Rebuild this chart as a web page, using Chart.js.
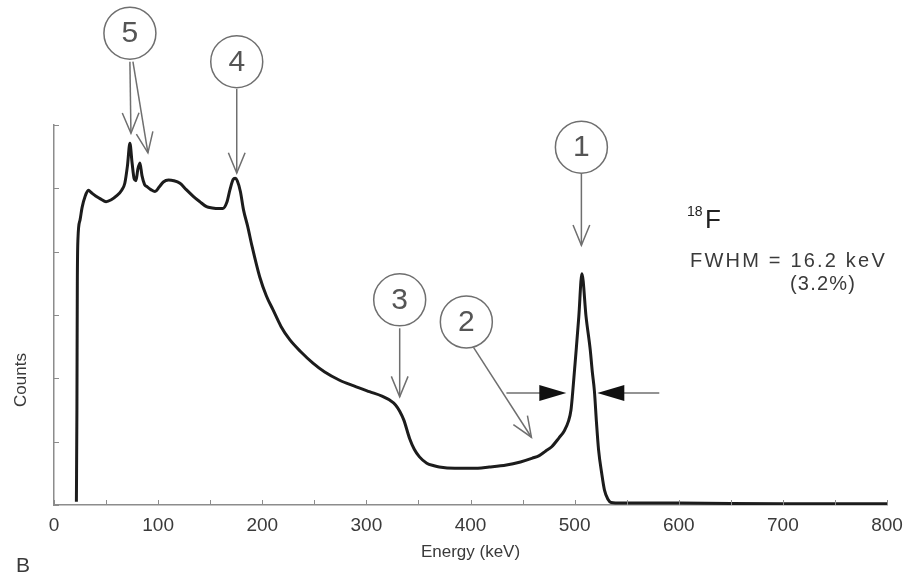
<!DOCTYPE html>
<html>
<head>
<meta charset="utf-8">
<script src="https://cdn.jsdelivr.net/npm/chart.js@4/dist/chart.umd.min.js"></script>
<style>
  html, body { margin: 0; background: #fff; }
  #wrap { width: 904px; height: 579px; position: relative; }
</style>
</head>
<body>
<div id="wrap"><canvas id="spectrum"></canvas></div>
<script>
// ---- data ----
const energy = [
  21.5, 22, 22.4, 23, 25, 27, 30, 33, 36, 40, 45, 50, 55, 60, 65, 68, 70.5, 72.9,
  75, 77, 78.7, 80.5, 82.5, 84.5, 87, 89, 93, 97, 101, 105, 110, 115, 121, 127,
  134, 140, 146.5, 152, 158, 162, 166, 169, 172, 174, 176, 179, 182, 186, 190,
  197.6, 204, 210.4, 218, 226.4, 237, 248.7, 260, 274.3, 288, 303, 315, 322, 328,
  332, 336, 341.5, 346, 351, 358, 365, 370, 385, 402, 418, 434.5, 448, 459.5, 466,
  472, 478, 485, 490, 494, 496.5, 498, 500, 501.5, 504, 507, 511, 515, 517, 519,
  521, 523, 526, 528.6, 532, 535, 545, 600, 700, 800
];
const counts = [
  0.05, 1.5, 3.5, 4.2, 4.5, 4.7, 4.88, 4.97, 4.93, 4.88, 4.83, 4.79, 4.82, 4.88, 4.97, 5.08, 5.35, 5.71,
  5.4, 5.15, 5.12, 5.3, 5.4, 5.2, 5.06, 5.03, 4.98, 4.95, 5.02, 5.1, 5.13, 5.12, 5.08, 4.98,
  4.87, 4.79, 4.71, 4.69, 4.68, 4.68, 4.78, 4.98, 5.14, 5.16, 5.12, 4.95, 4.66, 4.4, 4.1,
  3.6, 3.3, 3.08, 2.82, 2.61, 2.42, 2.24, 2.1, 1.97, 1.88, 1.79, 1.72, 1.66, 1.58,
  1.48, 1.34, 1.05, 0.88, 0.76, 0.66, 0.62, 0.6, 0.58, 0.58, 0.6, 0.63, 0.68, 0.74, 0.78,
  0.85, 0.92, 1.06, 1.17, 1.32, 1.5, 1.75, 2.15, 2.45, 2.97, 3.65, 2.97, 2.45, 2.1, 1.8,
  1.3, 0.87, 0.5, 0.24, 0.09, 0.04, 0.03, 0.03, 0.02, 0.02
];
const xTickLabels = ["0", "100", "200", "300", "400", "500", "600", "700", "800"];
const calloutLabels = ["5", "4", "3", "2", "1"];

// callouts and arrows, placed in data units (keV, counts)
const callouts = [
  { e: 72.9, c: 7.45 }, { e: 175.5, c: 7.0 }, { e: 332, c: 3.24 },
  { e: 396, c: 2.89 }, { e: 506.5, c: 5.65 }
];
const arrows = [
  [72.9, 7.0, 73.9, 5.87], [75.8, 7.0, 90.2, 5.56], [175.5, 6.57, 175.5, 5.24],
  [332, 2.79, 332, 1.71], [402.9, 2.49, 458.5, 1.07], [506.5, 5.24, 506.5, 4.1]
];
const fwhmArrows = [[434.5, 1.77, 492, 1.77], [581.3, 1.77, 521.8, 1.77]];

const GREY = "#6f6f6f";
const TEXT = "#3a3a3a";
const FONT = "'Liberation Sans', Arial, sans-serif";

function openHead(ctx, x0, y0, x1, y1) {
  const a = Math.atan2(y1 - y0, x1 - x0), len = 22, spread = 0.39;
  ctx.beginPath();
  ctx.moveTo(x1 - len * Math.cos(a - spread), y1 - len * Math.sin(a - spread));
  ctx.lineTo(x1, y1);
  ctx.lineTo(x1 - len * Math.cos(a + spread), y1 - len * Math.sin(a + spread));
  ctx.stroke();
}

const overlay = {
  id: "overlay",
  afterDraw(chart) {
    const { ctx, chartArea } = chart;
    const x = chart.scales.x, y = chart.scales.y;
    const px = (v) => x.getPixelForValue(v), py = (v) => y.getPixelForValue(v);
    ctx.save();

    // inward ticks
    ctx.strokeStyle = "#8c8c8c";
    ctx.lineWidth = 1;
    ctx.beginPath();
    x.ticks.forEach((t) => {
      const X = Math.round(px(t.value)) + 0.5;
      ctx.moveTo(X, chartArea.bottom);
      ctx.lineTo(X, chartArea.bottom - 5);
    });
    y.ticks.forEach((t) => {
      const Y = Math.round(py(t.value)) + 0.5;
      ctx.moveTo(chartArea.left, Y);
      ctx.lineTo(chartArea.left + 5, Y);
    });
    ctx.stroke();

    // tick labels and axis titles
    ctx.fillStyle = TEXT;
    ctx.font = "19px " + FONT;
    ctx.textAlign = "center";
    ctx.textBaseline = "middle";
    xTickLabels.forEach((lab) => ctx.fillText(lab, px(+lab), chartArea.bottom + 21));
    ctx.font = "17px " + FONT;
    ctx.fillText("Energy (keV)", (chartArea.left + chartArea.right) / 2, chartArea.bottom + 47);
    ctx.save();
    ctx.translate(21, 380);
    ctx.rotate(-Math.PI / 2);
    ctx.fillText("Counts", 0, 0);
    ctx.restore();
    ctx.font = "21px " + FONT;
    ctx.fillText("B", 23, 566);

    // numbered callouts
    ctx.strokeStyle = GREY;
    ctx.lineWidth = 1.5;
    callouts.forEach((p, i) => {
      ctx.beginPath();
      ctx.arc(px(p.e), py(p.c), 26, 0, Math.PI * 2);
      ctx.stroke();
      ctx.fillStyle = "#555";
      ctx.font = "30px " + FONT;
      ctx.fillText(calloutLabels[i], px(p.e), py(p.c) + 1);
    });

    // open arrows
    arrows.forEach(([e0, c0, e1, c1]) => {
      const x0 = px(e0), y0 = py(c0), x1 = px(e1), y1 = py(c1);
      ctx.beginPath();
      ctx.moveTo(x0, y0);
      ctx.lineTo(x1, y1);
      ctx.stroke();
      openHead(ctx, x0, y0, x1, y1);
    });

    // FWHM arrows with solid heads
    fwhmArrows.forEach(([e0, c0, e1, c1]) => {
      const x0 = px(e0), y0 = py(c0), x1 = px(e1), y1 = py(c1);
      const dir = Math.sign(x1 - x0);
      ctx.beginPath();
      ctx.moveTo(x0, y0);
      ctx.lineTo(x1 - dir * 20, y1);
      ctx.stroke();
      ctx.fillStyle = "#111";
      ctx.beginPath();
      ctx.moveTo(x1, y1);
      ctx.lineTo(x1 - dir * 27, y1 - 8);
      ctx.lineTo(x1 - dir * 27, y1 + 8);
      ctx.closePath();
      ctx.fill();
    });

    // isotope and resolution text
    ctx.fillStyle = "#222";
    ctx.textAlign = "left";
    ctx.textBaseline = "alphabetic";
    ctx.font = "14px " + FONT;
    ctx.fillText("18", 687, 216);
    ctx.font = "26px " + FONT;
    ctx.fillText("F", 705, 228);
    ctx.fillStyle = TEXT;
    ctx.font = "20px " + FONT;
    ctx.letterSpacing = "2.2px";
    ctx.fillText("FWHM = 16.2 keV", 690, 267);
    ctx.letterSpacing = "1.2px";
    ctx.fillText("(3.2%)", 790, 290);
    ctx.restore();
  }
};

new Chart(document.getElementById("spectrum"), {
  type: "line",
  data: {
    datasets: [{
      data: energy.map((e, i) => ({ x: e, y: counts[i] })),
      borderColor: "#1c1c1c",
      borderWidth: 3,
      pointRadius: 0,
      fill: false,
      cubicInterpolationMode: "monotone"
    }]
  },
  options: {
    responsive: true,
    maintainAspectRatio: false,
    animation: false,
    layout: { padding: { left: 54, top: 125, right: 17, bottom: 74 } },
    plugins: { legend: { display: false }, tooltip: { enabled: false } },
    scales: {
      x: {
        type: "linear",
        min: 0,
        max: 800,
        ticks: { display: false, stepSize: 50 },
        grid: { display: false },
        border: { display: true, color: "#8c8c8c", width: 1.5 },
        afterFit: (s) => { s.height = 0; }
      },
      y: {
        min: 0,
        max: 6,
        ticks: { display: false, stepSize: 1 },
        grid: { display: false },
        border: { display: true, color: "#8c8c8c", width: 1.5 },
        afterFit: (s) => { s.width = 0; }
      }
    }
  },
  plugins: [overlay]
});
</script>
</body>
</html>
